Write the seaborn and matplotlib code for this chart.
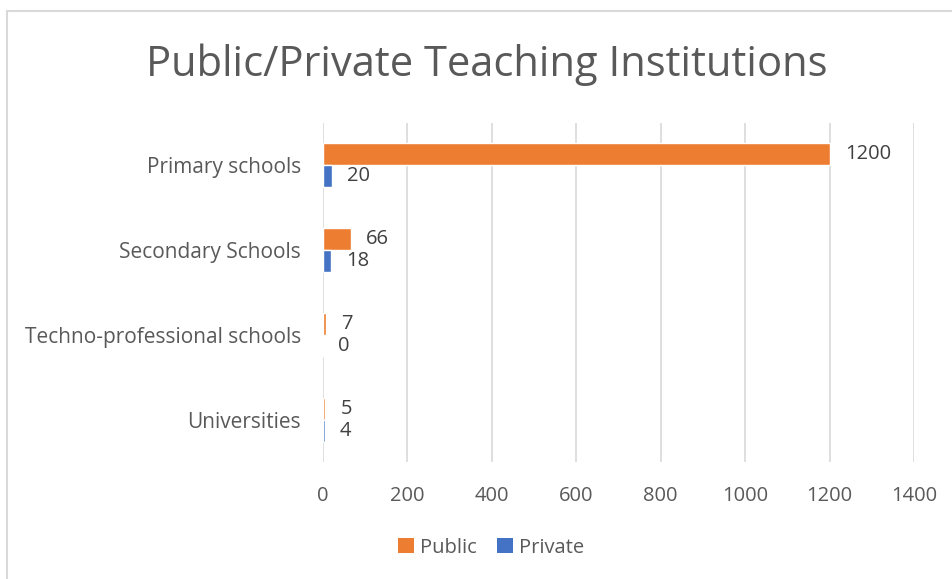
import matplotlib
matplotlib.use("Agg")
import matplotlib.pyplot as plt
from matplotlib.lines import Line2D
from matplotlib.patches import Patch
import pandas as pd
import seaborn as sns

categories = ["Primary schools", "Secondary Schools", "Techno-professional schools", "Universities"]
public_counts = [1200, 66, 7, 5]
private_counts = [20, 18, 0, 4]
series_names = ["Public", "Private"]
series_colors = ["#ED7D31", "#4472C4"]
x_ticks = [0, 200, 400, 600, 800, 1000, 1200, 1400]

df = pd.DataFrame({
    "Institution": categories * 2,
    "Type": [series_names[0]] * len(categories) + [series_names[1]] * len(categories),
    "Count": public_counts + private_counts,
})

sns.set_theme(style="white")
plt.rcParams["font.family"] = ["Open Sans", "DejaVu Sans"]

fig = plt.figure(figsize=(9.53, 5.79), dpi=100)
ax = fig.add_axes([0.339, 0.202, 0.620, 0.586])

sns.barplot(data=df, y="Institution", x="Count", hue="Type", order=categories,
            hue_order=series_names, palette=series_colors, orient="h",
            width=0.52, ax=ax, legend=False, saturation=1)

for container in ax.containers:
    ax.bar_label(container, fmt="%d", padding=11, fontsize=14.5, color="#404040")

ax.set_xlim(0, 1400)
ax.set_xticks(x_ticks)
ax.set_xticklabels([str(t) for t in x_ticks])
ax.set_xlabel("")
ax.set_ylabel("")
ax.xaxis.grid(True, color="#D9D9D9", linewidth=1.2)
ax.yaxis.grid(False)
ax.set_axisbelow(True)
for s in ax.spines.values():
    s.set_visible(False)
ax.tick_params(axis="x", length=0, pad=17, labelsize=14.5, labelcolor="#595959")
ax.tick_params(axis="y", length=0, pad=16, labelsize=15, labelcolor="#595959")

fig.text(0.511, 0.888, "Public/Private Teaching Institutions", ha="center", va="center",
         fontsize=30, color="#595959")

handles = [Patch(facecolor=c, edgecolor="none") for c in series_colors]
fig.legend(handles, series_names, loc="center", bbox_to_anchor=(0.515, 0.054),
           ncol=2, frameon=False, fontsize=14.5, labelcolor="#595959",
           handlelength=0.8, handleheight=0.8, handletextpad=0.3, columnspacing=1.0)

# chart area frame (top and left edges)
fig.add_artist(Line2D([0.0075, 0.0075], [0.0, 0.981], transform=fig.transFigure,
                      color="#D9D9D9", linewidth=1.5))
fig.add_artist(Line2D([0.0075, 1.0], [0.981, 0.981], transform=fig.transFigure,
                      color="#D9D9D9", linewidth=1.5))

fig.savefig("out.png", dpi=100)
